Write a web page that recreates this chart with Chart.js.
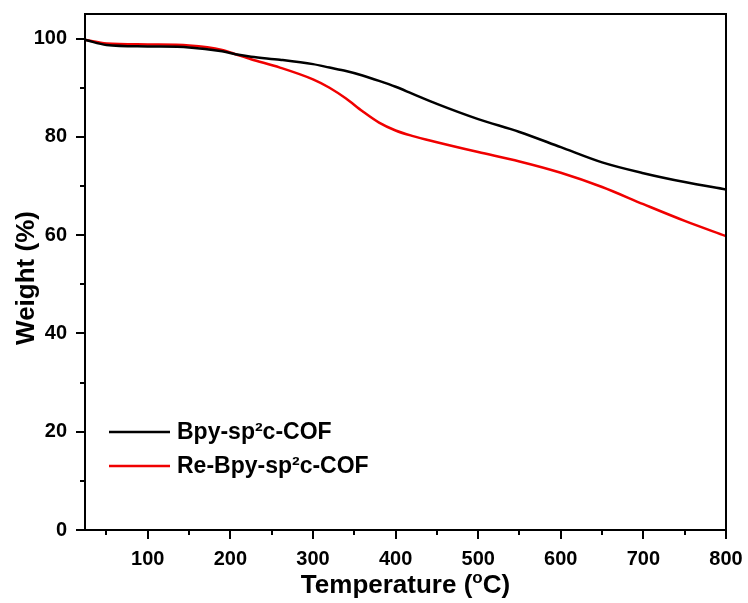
<!DOCTYPE html>
<html>
<head>
<meta charset="utf-8">
<script src="https://cdn.jsdelivr.net/npm/chart.js@4.4.0/dist/chart.umd.min.js"></script>
<style>
  html, body { margin: 0; padding: 0; background: #fff; }
  #wrap { width: 748px; height: 603px; position: relative; }
</style>
</head>
<body>
<div id="wrap"><canvas id="tgaChart"></canvas></div>
<script>
// TGA curves
const temps = [25, 50, 100, 150, 190, 210, 225, 260, 300, 320, 340, 360, 380, 400, 420, 450, 500, 550, 600, 650, 700, 750, 800];
const bpyWeight = [99.7, 98.7, 98.4, 98.2, 97.4, 96.7, 96.3, 95.7, 94.8, 94.1, 93.4, 92.5, 91.4, 90.2, 88.8, 86.7, 83.6, 81.0, 77.9, 74.8, 72.6, 70.8, 69.3];
const reWeight = [99.7, 99.0, 98.8, 98.6, 97.7, 96.6, 95.8, 94.1, 91.7, 90.0, 87.8, 85.2, 82.9, 81.3, 80.2, 78.9, 76.9, 75.0, 72.7, 69.8, 66.3, 62.9, 59.8];

const seriesLabels = ['Bpy-sp\u00b2c-COF', 'Re-Bpy-sp\u00b2c-COF'];
const seriesColors = ['#000000', '#f00000'];

const xMajor = [100, 200, 300, 400, 500, 600, 700, 800];
const xMinor = [50, 150, 250, 350, 450, 550, 650, 750];
const yMajor = [0, 20, 40, 60, 80, 100];
const yMinor = [10, 30, 50, 70, 90];

const FONT = '"Liberation Sans", Arial, sans-serif';

function toPoints(xs, ys) {
    return xs.map((x, i) => ({ x: x, y: ys[i] }));
}

// frame, tick marks, axis titles and legend
const decorations = {
    id: 'decorations',
    afterDraw(chart) {
        const ctx = chart.ctx;
        const area = chart.chartArea;
        const xs = chart.scales.x;
        const ys = chart.scales.y;

        ctx.save();
        ctx.strokeStyle = '#000';
        ctx.lineWidth = 2;
        ctx.strokeRect(area.left, area.top, area.right - area.left, area.bottom - area.top);

        // x ticks (outward)
        ctx.beginPath();
        xMajor.forEach(v => {
            const px = Math.round(xs.getPixelForValue(v));
            ctx.moveTo(px, area.bottom);
            ctx.lineTo(px, area.bottom + 9);
        });
        xMinor.forEach(v => {
            const px = Math.round(xs.getPixelForValue(v));
            ctx.moveTo(px, area.bottom);
            ctx.lineTo(px, area.bottom + 5);
        });
        // y ticks (outward)
        yMajor.forEach(v => {
            const py = Math.round(ys.getPixelForValue(v));
            ctx.moveTo(area.left, py);
            ctx.lineTo(area.left - 9, py);
        });
        yMinor.forEach(v => {
            const py = Math.round(ys.getPixelForValue(v));
            ctx.moveTo(area.left, py);
            ctx.lineTo(area.left - 5, py);
        });
        ctx.stroke();

        // x title with superscript o
        ctx.fillStyle = '#000';
        ctx.textBaseline = 'alphabetic';
        ctx.textAlign = 'left';
        const big = 'bold 26px ' + FONT;
        const small = 'bold 17px ' + FONT;
        const p1 = 'Temperature (', p2 = 'o', p3 = 'C)';
        ctx.font = big;
        const w1 = ctx.measureText(p1).width, w3 = ctx.measureText(p3).width;
        ctx.font = small;
        const w2 = ctx.measureText(p2).width;
        let tx = (area.left + area.right) / 2 - (w1 + w2 + w3) / 2;
        const ty = 593;
        ctx.font = big;
        ctx.fillText(p1, tx, ty);
        ctx.font = small;
        ctx.fillText(p2, tx + w1, ty - 10);
        ctx.font = big;
        ctx.fillText(p3, tx + w1 + w2, ty);

        // y title
        ctx.save();
        ctx.translate(34, (area.top + area.bottom) / 2 + 6);
        ctx.rotate(-Math.PI / 2);
        ctx.textAlign = 'center';
        ctx.font = big;
        ctx.fillText('Weight (%)', 0, 0);
        ctx.restore();

        // legend inside the plot
        ctx.font = 'bold 23px ' + FONT;
        ctx.textBaseline = 'middle';
        const rows = [432, 466];
        chart.data.datasets.forEach((ds, i) => {
            ctx.strokeStyle = ds.borderColor;
            ctx.lineWidth = 2.5;
            ctx.beginPath();
            ctx.moveTo(109, rows[i]);
            ctx.lineTo(170, rows[i]);
            ctx.stroke();
            ctx.fillStyle = '#000';
            ctx.fillText(ds.label, 177, rows[i] + 1);
        });
        ctx.restore();
    }
};

const ctx = document.getElementById('tgaChart').getContext('2d');
const chart = new Chart(ctx, {
    type: 'line',
    data: {
        datasets: [{
            label: seriesLabels[0],
            data: toPoints(temps, bpyWeight),
            borderColor: seriesColors[0],
            borderWidth: 2.5,
            pointRadius: 0,
            cubicInterpolationMode: 'monotone',
            fill: false
        }, {
            label: seriesLabels[1],
            data: toPoints(temps, reWeight),
            borderColor: seriesColors[1],
            borderWidth: 2.5,
            pointRadius: 0,
            cubicInterpolationMode: 'monotone',
            fill: false
        }]
    },
    options: {
        responsive: true,
        maintainAspectRatio: false,
        animation: false,
        layout: {
            padding: { top: 14, right: 22, left: 0, bottom: 0 }
        },
        plugins: {
            legend: { display: false },
            tooltip: { enabled: false }
        },
        scales: {
            x: {
                type: 'linear',
                min: 24,
                max: 800,
                grid: { display: false, drawTicks: false },
                border: { display: false },
                afterBuildTicks: scale => { scale.ticks = xMajor.map(v => ({ value: v })); },
                afterFit: scale => {
                    scale.height = 73;
                    scale.paddingLeft = 0;
                    scale.paddingRight = 0;
                },
                ticks: {
                    padding: 17,
                    color: '#000',
                    font: { size: 20, weight: 'bold', family: FONT }
                }
            },
            y: {
                type: 'linear',
                min: 0,
                max: 105,
                grid: { display: false, drawTicks: false },
                border: { display: false },
                afterBuildTicks: scale => { scale.ticks = yMajor.map(v => ({ value: v })); },
                afterFit: scale => {
                    scale.width = 85;
                    scale.paddingTop = 0;
                    scale.paddingBottom = 0;
                },
                ticks: {
                    padding: 18,
                    color: '#000',
                    font: { size: 20, weight: 'bold', family: FONT }
                }
            }
        }
    },
    plugins: [decorations]
});
</script>
</body>
</html>
